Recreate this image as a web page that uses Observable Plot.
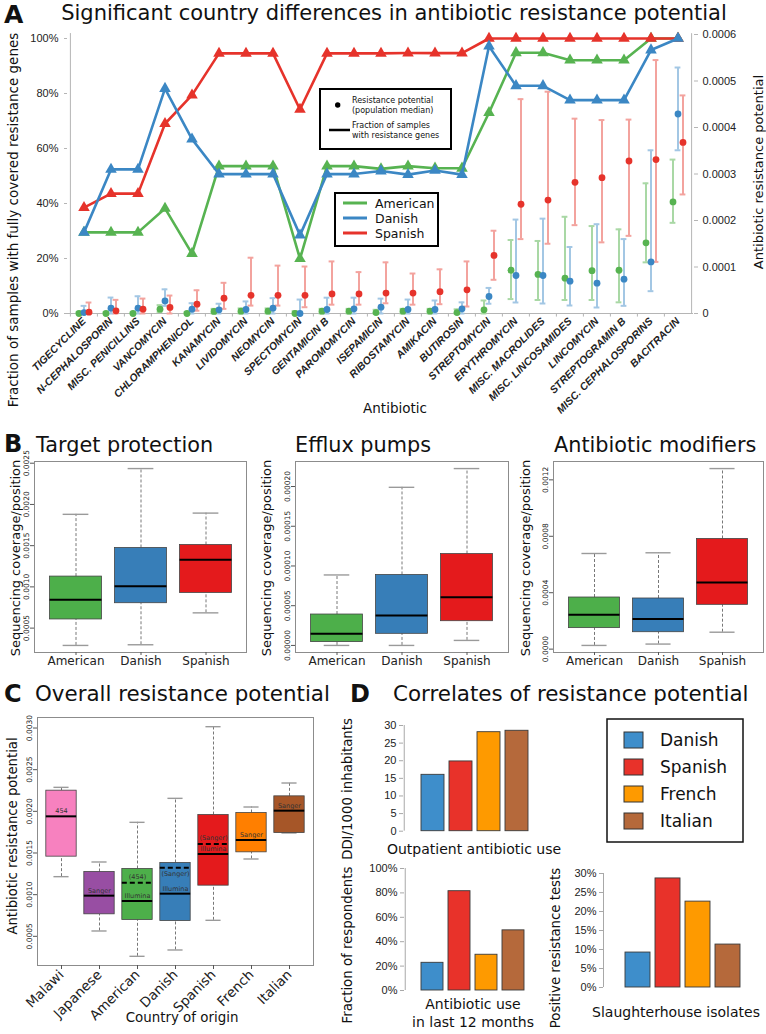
<!DOCTYPE html>
<html>
<head>
<meta charset="utf-8">
<script src="https://cdn.jsdelivr.net/npm/d3@7"></script>
<script src="https://cdn.jsdelivr.net/npm/@observablehq/plot@0.6"></script>
<style>
html,body{margin:0;padding:0;background:#fff;}
#root{position:relative;width:766px;height:1034px;overflow:hidden;background:#fff;}
#root svg{position:absolute;left:0;top:0;}
</style>
</head>
<body>
<div id="root"></div>
<script>
// ---------------- DATA ----------------
const antibiotics = ["TIGECYCLINE","N-CEPHALOSPORIN","MISC. PENICILLINS","VANCOMYCIN","CHLORAMPHENICOL","KANAMYCIN","LIVIDOMYCIN","NEOMYCIN","SPECTOMYCIN","GENTAMICIN B","PAROMOMYCIN","ISEPAMICIN","RIBOSTAMYCIN","AMIKACIN","BUTIROSIN","STREPTOMYCIN","ERYTHROMYCIN","MISC. MACROLIDES","MISC. LINCOSAMIDES","LINCOMYCIN","STREPTOGRAMIN B","MISC. CEPHALOSPORINS","BACITRACIN"];
// fraction of samples with fully covered resistance genes (%)
const fracAmerican = [29.5,29.5,29.5,38.2,21.8,53.6,53.6,53.6,19.9,53.6,53.6,52.6,53.6,52.8,52.8,73,94.8,94.8,92.1,92.1,92.1,100,100];
const fracDanish   = [29.5,52.4,52.4,81.8,63.4,50.7,50.7,50.7,28.5,50.7,50.7,51.8,50.5,52,50.5,97.2,82.8,82.8,77.6,77.6,77.6,95.8,100];
const fracSpanish  = [38.5,43.6,43.6,69,79.4,94.6,94.6,94.6,74.2,94.6,94.6,94.6,94.7,94.7,94.7,100,100,100,100,100,100,100,100];
// resistance potential, population median and error range (units of 1e-5)
const rpAmericanMed = [0,0,0,0.93,0,0.45,0.5,0.5,0,0.5,0.5,0.2,0.5,0.5,0.2,0.8,9.3,8.4,7.6,9.2,9.3,15.2,24.0];
const rpAmericanLo  = [0,0,0,0.3,0,0,0,0,0,0,0,0,0,0,0,0,3.1,2.9,2.9,2.9,2.4,11.0,19.5];
const rpAmericanHi  = [0.3,0.3,0.3,1.8,0.3,1.0,1.1,1.1,0.5,1.0,1.0,0.8,1.0,1.0,0.9,2.8,15.8,15.6,20.8,18.8,18.1,28.0,33.1];
const rpDanishMed = [0.2,1.14,1.14,2.7,0.93,0.8,0.86,1.14,0,0.86,1.0,1.36,0.86,0.86,1.0,3.66,8.17,8.17,6.95,6.52,7.38,11.1,42.9];
const rpDanishLo  = [0,0,0,1.64,0,0,0,0,0,0,0,0,0,0,0,2.1,2.37,2.15,1.72,1.29,1.65,4.8,35.1];
const rpDanishHi  = [1.64,3.43,3.71,5.2,2.21,2.1,2.6,3.3,3.0,3.4,3.4,3.2,3.0,2.8,2.4,5.5,20.2,20.4,14.3,19.2,16.0,35.1,52.9];
const rpSpanishMed = [0.29,0.57,0.93,1.3,2.0,3.3,3.9,3.9,3.9,4.2,4.2,4.4,4.4,4.7,5.1,12.5,23.5,24.4,28.2,29.2,32.8,33.1,36.8];
const rpSpanishLo  = [0,0,0,0,0.6,1.0,1.7,1.7,1.35,1.9,1.9,2.2,1.9,2.0,1.5,7.25,16.0,15.0,19.0,15.3,16.7,11.1,25.6];
const rpSpanishHi  = [2.36,2.93,3.21,3.86,5.0,6.6,12.0,10.3,10.1,11.2,8.9,11.0,8.6,9.5,11.2,17.8,46.1,47.7,41.9,41.6,41.7,54.5,46.9];
const leftAxisTicks = [0,20,40,60,80,100];
const rightAxisTicks = ["0","0.0001","0.0002","0.0003","0.0004","0.0005","0.0006"];

// Panel B box statistics (whisker low, Q1, median, Q3, whisker high)
const boxCountries = ["American","Danish","Spanish"];
const targetLow  = [0.00029,0.000298,0.000685];
const targetQ1   = [0.000605,0.000802,0.000927];
const targetMed  = [0.000843,0.001008,0.00133];
const targetQ3   = [0.001125,0.001472,0.001508];
const targetHigh = [0.00188,0.002435,0.001895];
const effluxLow  = [0,0,0.0000063];
const effluxQ1   = [0.0000042,0.0000146,0.0000305];
const effluxMed  = [0.0000146,0.0000377,0.0000607];
const effluxQ3   = [0.0000389,0.0000887,0.000115];
const effluxHigh = [0.0000887,0.000199,0.0002226];
const modLow  = [0.0000263,0.0000359,0.00012];
const modQ1   = [0.000149,0.00012,0.000314];
const modMed  = [0.000244,0.000213,0.000472];
const modQ3   = [0.000366,0.000359,0.000781];
const modHigh = [0.000678,0.000683,0.00128];

// Panel C
const overallCountries = ["Malawi","Japanese","American","Danish","Spanish","French","Italian"];
const overallLow  = [0.001216,0.000564,0.00026,0.000336,0.000692,0.001428,0.00174];
const overallQ1   = [0.001456,0.000764,0.000696,0.000684,0.001108,0.001508,0.00174];
const overallMed  = [0.00194,0.000988,0.000924,0.001012,0.001488,0.001656,0.002008];
const overallQ3   = [0.002248,0.001272,0.001308,0.00138,0.001956,0.00198,0.00218];
const overallHigh = [0.002288,0.001392,0.001868,0.002156,0.003016,0.002052,0.00234];
const overallAlt  = [null,null,0.001144,0.001324,0.001608,null,null];
const overallMedLabel = ["454","Sanger","Illumina","Illumina","Illumina","Sanger","Sanger"];
const overallAltLabel = [null,null,"(454)","(Sanger)","(Sanger)",null,null];

// Panel D
const corrCountries = ["Danish","Spanish","French","Italian"];
const outpatientUse = [16.0,19.8,28.1,28.5];
const useLast12 = [22.7,81.4,29.3,49.3];
const slaughterhouse = [9.2,28.7,22.6,11.3];

// ---------------- COLOURS ----------------
const colA = {American:"#57b351", Danish:"#3b87c4", Spanish:"#e6332b"};
const lightA = {American:"#a9d8a5", Danish:"#a3c7e4", Spanish:"#f3a39e"};
const colB = {American:"#4daf4a", Danish:"#377eb8", Spanish:"#e41a1c"};
const colC = {Malawi:"#f781bf", Japanese:"#984ea3", American:"#4daf4a", Danish:"#377eb8", Spanish:"#e41a1c", French:"#ff7f00", Italian:"#a65628"};
const colD = {Danish:"#3e8ecb", Spanish:"#e8322a", French:"#fe9a00", Italian:"#b5693b"};

// ---------------- HELPERS ----------------
const root = document.getElementById("root");
const W = 766, H = 1034;
function add(el){ root.appendChild(el); }
function M(l,t,r,b){ return {width:W, height:H, marginLeft:l, marginTop:t, marginRight:W-r, marginBottom:H-b}; }
function st(family, size){ return {background:"transparent", overflow:"visible", color:"#222", fontFamily:family, fontSize:size+"px"}; }

// ---------------- PANEL A ----------------
const aL=67, aR=693, aT=38, aB=313;
const bwA = (aR-aL)/antibiotics.length;
const pxPerPct = (aB-aT)/100;
const rpMax = 0.0006;
const rpPct = (aB-34)/pxPerPct;
const rp2y = v => v/rpMax*rpPct;
const seriesA = [
  {name:"American", frac:fracAmerican, med:rpAmericanMed, lo:rpAmericanLo, hi:rpAmericanHi, dx:-5},
  {name:"Danish", frac:fracDanish, med:rpDanishMed, lo:rpDanishLo, hi:rpDanishHi, dx:0},
  {name:"Spanish", frac:fracSpanish, med:rpSpanishMed, lo:rpSpanishLo, hi:rpSpanishHi, dx:5}
];
seriesA.forEach(s => { s.rows = antibiotics.map((ab,i)=>({ab, frac:s.frac[i], med:s.med[i]*1e-5, lo:s.lo[i]*1e-5, hi:s.hi[i]*1e-5})); });
const capA = (bwA-6)/2;
const marksA = [
  Plot.ruleY([0], {stroke:"#b5b5b5"}),
  Plot.ruleX([antibiotics[0]], {x:d=>d, y1:0, y2:101.8, dx:-bwA/2, stroke:"#b5b5b5"}),
  Plot.ruleX([antibiotics[antibiotics.length-1]], {x:d=>d, y1:0, y2:rpPct+0.3, dx:bwA/2, stroke:"#b5b5b5"}),
  Plot.ruleX(antibiotics, {x:d=>d, y1:0, y2:-1.3, dx:-bwA/2, stroke:"#b5b5b5"})
];
for (const s of seriesA) {
  marksA.push(Plot.ruleX(s.rows, {x:"ab", y1:d=>rp2y(d.lo), y2:d=>rp2y(d.hi), dx:s.dx, stroke:lightA[s.name], strokeWidth:2}));
  marksA.push(Plot.tickY(s.rows, {x:"ab", y:d=>rp2y(d.hi), dx:s.dx, insetLeft:capA, insetRight:capA, stroke:lightA[s.name], strokeWidth:2}));
  marksA.push(Plot.tickY(s.rows, {x:"ab", y:d=>rp2y(d.lo), dx:s.dx, insetLeft:capA, insetRight:capA, stroke:lightA[s.name], strokeWidth:2}));
}
for (const s of seriesA) marksA.push(Plot.dot(s.rows, {x:"ab", y:d=>rp2y(d.med), dx:s.dx, r:3.4, fill:colA[s.name]}));
for (const name of ["American","Spanish","Danish"]) {
  const s = seriesA.find(t=>t.name===name);
  marksA.push(Plot.line(s.rows, {x:"ab", y:"frac", stroke:colA[name], strokeWidth:2.6}));
  marksA.push(Plot.dot(s.rows, {x:"ab", y:"frac", symbol:"triangle", r:4.3, fill:colA[name]}));
}
marksA.push(Plot.axisY({anchor:"left", ticks:leftAxisTicks, tickFormat:d=>d+"%", tickSize:3, tickPadding:6, fontSize:11, label:null, stroke:"#b5b5b5"}));
marksA.push(Plot.axisY({anchor:"right", ticks:rightAxisTicks.map(t=>rp2y(+t)), tickFormat:d=>rightAxisTicks[Math.round(d/rpPct*rpMax*1e4)], tickSize:4, tickPadding:5, fontSize:11, label:null, stroke:"#b5b5b5"}));
marksA.push(Plot.axisX({anchor:"bottom", tickSize:0, tickRotate:-45, tickPadding:6, fontSize:10.5, fontWeight:"bold", fontStyle:"italic", label:null}));
add(Plot.plot({...M(aL,aT,aR,aB), style:st("Liberation Sans, Arial, sans-serif", 11),
  x:{type:"band", domain:antibiotics, padding:0}, y:{domain:[0,100]}, marks:marksA}));

// ---------------- BOX PANELS (B, C) ----------------
function boxPanel(o){
  const n = o.cats.length;
  const step = (o.R-o.L)/(n+0.24);
  const rows = o.cats.map((c,i)=>({c, low:o.low[i], q1:o.q1[i], med:o.med[i], q3:o.q3[i], high:o.high[i], col:o.colors[c],
    alt:o.alt?o.alt[i]:null, medLabel:o.medLabel?o.medLabel[i]:null, altLabel:o.altLabel?o.altLabel[i]:null}));
  const lo = d3.min(o.low), hi = d3.max(o.high), pad = (hi-lo)*0.04;
  const boxIn = 0.1*step, capIn = 0.3*step;
  const marks = [
    Plot.ruleX(rows, {x:"c", y1:"q3", y2:"high", stroke:"#555", strokeWidth:0.8, strokeDasharray:"3,2"}),
    Plot.ruleX(rows, {x:"c", y1:"low", y2:"q1", stroke:"#555", strokeWidth:0.8, strokeDasharray:"3,2"}),
    Plot.tickY(rows, {x:"c", y:"high", insetLeft:capIn, insetRight:capIn, stroke:"#9a9a9a", strokeWidth:1.4}),
    Plot.tickY(rows, {x:"c", y:"low", insetLeft:capIn, insetRight:capIn, stroke:"#9a9a9a", strokeWidth:1.4}),
    Plot.barY(rows, {x:"c", y1:"q1", y2:"q3", fill:"col", stroke:"#444", strokeWidth:0.8, insetLeft:boxIn, insetRight:boxIn}),
    Plot.tickY(rows, {x:"c", y:"med", insetLeft:boxIn, insetRight:boxIn, stroke:"#000", strokeWidth:2})
  ];
  if (o.alt) {
    const altRows = rows.filter(d=>d.alt!=null);
    marks.push(Plot.tickY(altRows, {x:"c", y:"alt", insetLeft:boxIn, insetRight:boxIn, stroke:"#000", strokeWidth:2, strokeDasharray:"5,3"}));
    marks.push(Plot.text(altRows.filter(d=>d.c!=="Danish"), {x:"c", y:"alt", text:"altLabel", dy:-6, fontSize:6.5, fill:"#333"}));
    marks.push(Plot.text(altRows.filter(d=>d.c==="Danish"), {x:"c", y:"alt", text:"altLabel", dy:6, fontSize:6.5, fill:"#333"}));
    marks.push(Plot.text(rows, {x:"c", y:"med", text:"medLabel", dy:-5, fontSize:6.5, fill:"#333"}));
  }
  marks.push(Plot.frame({stroke:"#8c8c8c"}));
  marks.push(Plot.axisY({anchor:"left", ticks:o.ticks, tickFormat:o.fmt, tickRotate:-90, tickSize:4, tickPadding:2, fontSize:7.5, label:null, stroke:"#555"}));
  marks.push(Plot.axisX({anchor:"bottom", tickSize:o.xTick, tickPadding:o.xPad, fontSize:o.xFont, tickRotate:o.xRotate||0, label:null, stroke:"#555"}));
  return Plot.plot({...M(o.L,o.T,o.R,o.B), style:st("DejaVu Sans, sans-serif", 12),
    x:{type:"band", domain:o.cats, paddingInner:0, paddingOuter:0.12},
    y:{domain:[lo-pad, hi+pad]}, color:{type:"identity"}, marks});
}
const f4 = d3.format(".4f"), f5 = d3.format(".5f");
add(boxPanel({cats:boxCountries, colors:colB, low:targetLow, q1:targetQ1, med:targetMed, q3:targetQ3, high:targetHigh,
  L:34, R:246, T:461, B:652, ticks:[0.0005,0.001,0.0015,0.002,0.0025], fmt:f4, xTick:3, xPad:1, xFont:12}));
add(boxPanel({cats:boxCountries, colors:colB, low:effluxLow, q1:effluxQ1, med:effluxMed, q3:effluxQ3, high:effluxHigh,
  L:295, R:508, T:461, B:652, ticks:[0,0.00005,0.0001,0.00015,0.0002], fmt:f5, xTick:3, xPad:1, xFont:12}));
add(boxPanel({cats:boxCountries, colors:colB, low:modLow, q1:modQ1, med:modMed, q3:modQ3, high:modHigh,
  L:553, R:763, T:461, B:652, ticks:[0,0.0004,0.0008,0.0012], fmt:f4, xTick:3, xPad:1, xFont:12}));
add(boxPanel({cats:overallCountries, colors:colC, low:overallLow, q1:overallQ1, med:overallMed, q3:overallQ3, high:overallHigh,
  alt:overallAlt, medLabel:overallMedLabel, altLabel:overallAltLabel,
  L:37, R:313, T:717, B:965, ticks:[0.0005,0.001,0.0015,0.002,0.0025,0.003], fmt:f4, xTick:4, xPad:3, xFont:13.5, xRotate:-45}));

// ---------------- PANEL D ----------------
function barPanel(o){
  const n = corrCountries.length;
  const step = (o.R-o.L)/(n-o.pi+2*o.po);
  const bw = step*(1-o.pi);
  const rows = corrCountries.map((c,i)=>({c, v:o.values[i], col:colD[c]}));
  return Plot.plot({...M(o.L,o.T,o.R,o.B), style:st("Liberation Sans, Arial, sans-serif", 11),
    x:{type:"band", domain:corrCountries, paddingInner:o.pi, paddingOuter:o.po, axis:null},
    y:{domain:o.domain}, color:{type:"identity"},
    marks:[
      Plot.ruleX([corrCountries[0]], {x:d=>d, y1:o.domain[0], y2:o.domain[1], dx:-(o.po*step+bw/2), stroke:"#a8a8a8"}),
      Plot.barY(rows, {x:"c", y:"v", fill:"col", stroke:"#3a3a3a", strokeWidth:0.9}),
      Plot.axisY({ticks:o.ticks, tickFormat:o.fmt, tickSize:4, tickPadding:3, fontSize:11, label:null, stroke:"#a8a8a8"})
    ]});
}
add(barPanel({values:outpatientUse, L:403, R:546.6, T:725, B:830.7, pi:0.18, po:0.592, domain:[0,30], ticks:[0,5,10,15,20,25,30], fmt:d=>d}));
add(barPanel({values:useLast12, L:404, R:541.6, T:868, B:990, pi:0.188, po:0.578, domain:[0,100], ticks:[0,20,40,60,80,100], fmt:d=>d+"%"}));
add(barPanel({values:slaughterhouse, L:603, R:762, T:873, B:987, pi:0.167, po:0.733, domain:[0,30], ticks:[0,5,10,15,20,25,30], fmt:d=>d+"%"}));

// ---------------- ANNOTATIONS ----------------
const svg = d3.select(root).append("svg").attr("width",W).attr("height",H).style("font-family","DejaVu Sans, sans-serif");
function txt(s, x, y, o={}){
  const t = svg.append("text").attr("x",x).attr("y",y).text(s)
    .attr("font-size",o.size||13).attr("text-anchor",o.anchor||"start").attr("fill",o.fill||"#111");
  if (o.weight) t.attr("font-weight",o.weight);
  if (o.rotate) t.attr("transform",`rotate(${o.rotate},${x},${y})`);
  return t;
}
// A
txt("A", 4, 23, {size:25, weight:"bold"});
txt("Significant country differences in antibiotic resistance potential", 394, 20, {size:21, anchor:"middle"});
txt("Fraction of samples with fully covered resistance genes", 18, 220, {size:13.5, anchor:"middle", rotate:-90});
txt("Antibiotic resistance potential", 763, 172, {size:13, anchor:"middle", rotate:-90});
txt("Antibiotic", 395, 413, {size:13.5, anchor:"middle"});
svg.append("rect").attr("x",320).attr("y",89).attr("width",131).attr("height",60).attr("fill","#fff").attr("stroke","#000").attr("stroke-width",2);
svg.append("circle").attr("cx",337.7).attr("cy",105).attr("r",2.7).attr("fill","#000");
svg.append("line").attr("x1",329).attr("x2",350).attr("y1",130).attr("y2",130).attr("stroke","#000").attr("stroke-width",2.5);
[["Resistance potential",103],["(population median)",113],["Fraction of samples",128],["with resistance genes",138]]
  .forEach(([s,y])=>txt(s, 352, y, {size:8}));
svg.append("rect").attr("x",335).attr("y",193).attr("width",103).attr("height",53).attr("fill","#fff").attr("stroke","#000").attr("stroke-width",2);
["American","Danish","Spanish"].forEach((c,i)=>{
  const y = 203 + i*15;
  svg.append("line").attr("x1",343).attr("x2",367).attr("y1",y).attr("y2",y).attr("stroke",colA[c]).attr("stroke-width",3);
  txt(c, 375, y+4.5, {size:12.5});
});
// B
txt("B", 4, 452, {size:24, weight:"bold"});
txt("Target protection", 36, 452, {size:20.8});
txt("Efflux pumps", 295, 452, {size:20.8});
txt("Antibiotic modifiers", 554, 452, {size:20.8});
[20, 271, 530].forEach(x=>txt("Sequencing coverage/position", x, 558, {size:13, anchor:"middle", rotate:-90}));
// C
txt("C", 4, 702, {size:24, weight:"bold"});
txt("Overall resistance potential", 35, 701, {size:21.4});
txt("Antibiotic resistance potential", 16.5, 836, {size:13.2, anchor:"middle", rotate:-90});
txt("Country of origin", 182, 1022, {size:13.4, anchor:"middle"});
// D
txt("D", 350, 702, {size:24, weight:"bold"});
txt("Correlates of resistance potential", 393, 701, {size:21.4});
txt("DDI/1000 inhabitants", 352, 789, {size:13.3, anchor:"middle", rotate:-90});
txt("Outpatient antibiotic use", 474, 854, {size:14, anchor:"middle"});
txt("Fraction of respondents", 352, 945, {size:13.3, anchor:"middle", rotate:-90});
txt("Antibiotic use", 473, 1009, {size:14, anchor:"middle"});
txt("in last 12 months", 473, 1027, {size:14, anchor:"middle"});
txt("Positive resistance tests", 560, 948, {size:13.3, anchor:"middle", rotate:-90});
txt("Slaughterhouse isolates", 676, 1017, {size:14, anchor:"middle"});
svg.append("rect").attr("x",607).attr("y",719).attr("width",136).attr("height",123).attr("fill","#fff").attr("stroke","#111").attr("stroke-width",1.5);
corrCountries.forEach((c,i)=>{
  const cy = 740 + i*27;
  svg.append("rect").attr("x",624).attr("y",cy-8).attr("width",19).attr("height",16).attr("fill",colD[c]).attr("stroke","#333").attr("stroke-width",1);
  txt(c, 660, cy+6, {size:17});
});
</script>
</body>
</html>
